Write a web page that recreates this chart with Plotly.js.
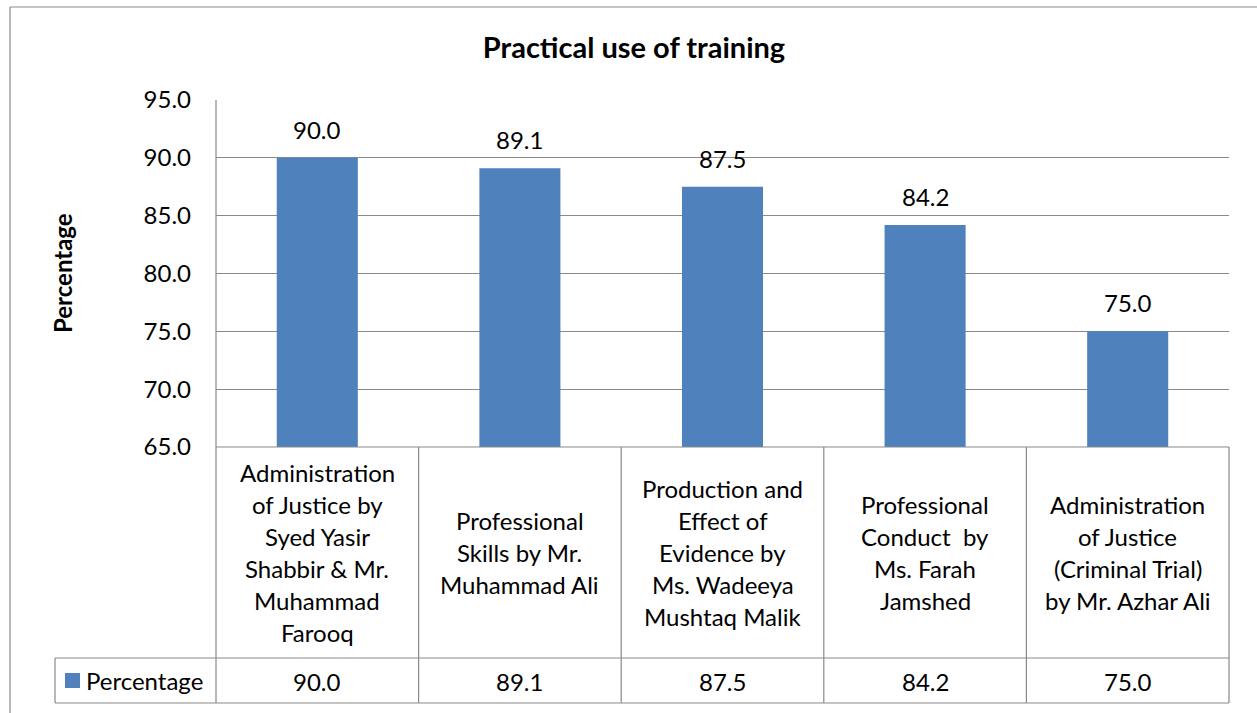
<!DOCTYPE html>
<html>
<head>
<meta charset="utf-8">
<script src="https://cdn.plot.ly/plotly-3.0.1.min.js"></script>
<style>html,body{margin:0;padding:0;background:#fff;}#chart{width:1257px;height:713px;}</style>
</head>
<body>
<div id="chart"></div>
<script>
// ---- data ----
const categories = [
  "Administration<br>of Justice by<br>Syed Yasir<br>Shabbir & Mr.<br>Muhammad<br>Farooq",
  "Professional<br>Skills by Mr.<br>Muhammad Ali",
  "Production and<br>Effect of<br>Evidence by<br>Ms. Wadeeya<br>Mushtaq Malik",
  "Professional<br>Conduct  by<br>Ms. Farah<br>Jamshed",
  "Administration<br>of Justice<br>(Criminal Trial)<br>by Mr. Azhar Ali"
];
const percentage = [90.0, 89.1, 87.5, 84.2, 75.0];
const seriesName = "Percentage";
const chartTitle = "Practical use of training";
const yTitle = "Percentage";

// ---- geometry helpers (pixel -> paper) ----
const W = 1257, H = 713;
const mL = 216, mR = 28, mT = 100, mB = 266;
const pw = W - mL - mR, ph = H - mT - mB;
const px = x => (x - mL) / pw;
const py = y => (H - mB - y) / ph;

const FONT = "Lato, 'Liberation Sans', sans-serif";
const FS = 24;
const grid = "#898989";
const n = categories.length;
const xs = categories.map((c, i) => i);

const shapes = [];
const annotations = [];
const line = (x0, y0, x1, y1, xref) => shapes.push({
  type: "line", xref: xref || "paper", yref: "paper",
  x0: x0, y0: y0, x1: x1, y1: y1,
  line: {color: grid, width: 1.2}
});

// outer chart border
line(px(10), py(7), px(1270), py(7));
line(px(10), py(7), px(10), py(730));

// left axis line through table
line(0, 1, 0, py(703));
// right border of table
line(1, 0, 1, py(703));
// x axis / table top
line(0, 0, 1, 0);
// value row top & bottom (including legend cell)
line(px(55), py(658), 1, py(658));
line(px(55), py(703), 1, py(703));
line(px(55), py(658), px(55), py(703));
// column separators
for (let i = 0; i < n - 1; i++) {
  shapes.push({type: "line", xref: "x", yref: "paper", x0: i + 0.5, x1: i + 0.5,
    y0: 0, y1: py(703), line: {color: grid, width: 1.2}});
}
// legend key
shapes.push({type: "rect", xref: "paper", yref: "paper",
  x0: px(65), x1: px(80), y0: py(688), y1: py(673),
  fillcolor: "#4F81BD", line: {width: 0}});
annotations.push({xref: "paper", yref: "paper", x: px(84), y: py(680), xanchor: "left", yanchor: "middle",
  text: seriesName, showarrow: false, font: {family: FONT, size: FS, color: "#000"}});

// category labels (one annotation per line for exact line spacing)
const lineGap = 32, rowCenter = 552;
categories.forEach((c, i) => {
  const lines = c.split("<br>");
  const start = rowCenter - (lines.length - 1) * lineGap / 2;
  lines.forEach((t, k) => {
    annotations.push({xref: "x", yref: "paper", x: i, y: py(start + k * lineGap),
      xanchor: "center", yanchor: "middle", text: t, showarrow: false,
      font: {family: FONT, size: FS, color: "#000"}});
  });
  // value row
  annotations.push({xref: "x", yref: "paper", x: i, y: py(681), xanchor: "center", yanchor: "middle",
    text: percentage[i].toFixed(1), showarrow: false, font: {family: FONT, size: FS, color: "#000"}});
  // data label above bar
  annotations.push({xref: "x", yref: "y", x: i, y: percentage[i], yshift: 12, xanchor: "center", yanchor: "bottom",
    text: percentage[i].toFixed(1), showarrow: false, font: {family: FONT, size: FS, color: "#000"}});
});

// y axis title
annotations.push({xref: "paper", yref: "paper", x: px(62), y: py(273), textangle: -90,
  xanchor: "center", yanchor: "middle", text: "<b>" + yTitle + "</b>", showarrow: false,
  font: {family: FONT, size: 24, color: "#000"}});

const trace = {
  type: "bar", x: xs, y: percentage, name: seriesName,
  marker: {color: "#4F81BD", line: {width: 0}},
  width: 0.4, hoverinfo: "skip"
};

const layout = {
  width: W, height: H,
  margin: {l: mL, r: mR, t: mT, b: mB, pad: 0},
  paper_bgcolor: "#fff", plot_bgcolor: "#fff",
  showlegend: false,
  title: {text: "<b>" + chartTitle + "</b>", x: 634 / W, xanchor: "center", y: 1 - 48 / H, yanchor: "middle",
    font: {family: FONT, size: 29, color: "#000"}},
  xaxis: {range: [-0.5, n - 0.5], showticklabels: false, showgrid: false, zeroline: false,
    showline: false, ticks: "", fixedrange: true},
  yaxis: {range: [65, 95], dtick: 5, tick0: 65, tickformat: ".1f", showgrid: true, gridcolor: grid,
    gridwidth: 1.2, zeroline: false, showline: false, ticks: "", ticklabelstandoff: 24,
    tickfont: {family: FONT, size: FS, color: "#000"}, fixedrange: true},
  shapes: shapes,
  annotations: annotations,
  font: {family: FONT}
};

Plotly.newPlot("chart", [trace], layout, {displayModeBar: false, staticPlot: true});
</script>
</body>
</html>
